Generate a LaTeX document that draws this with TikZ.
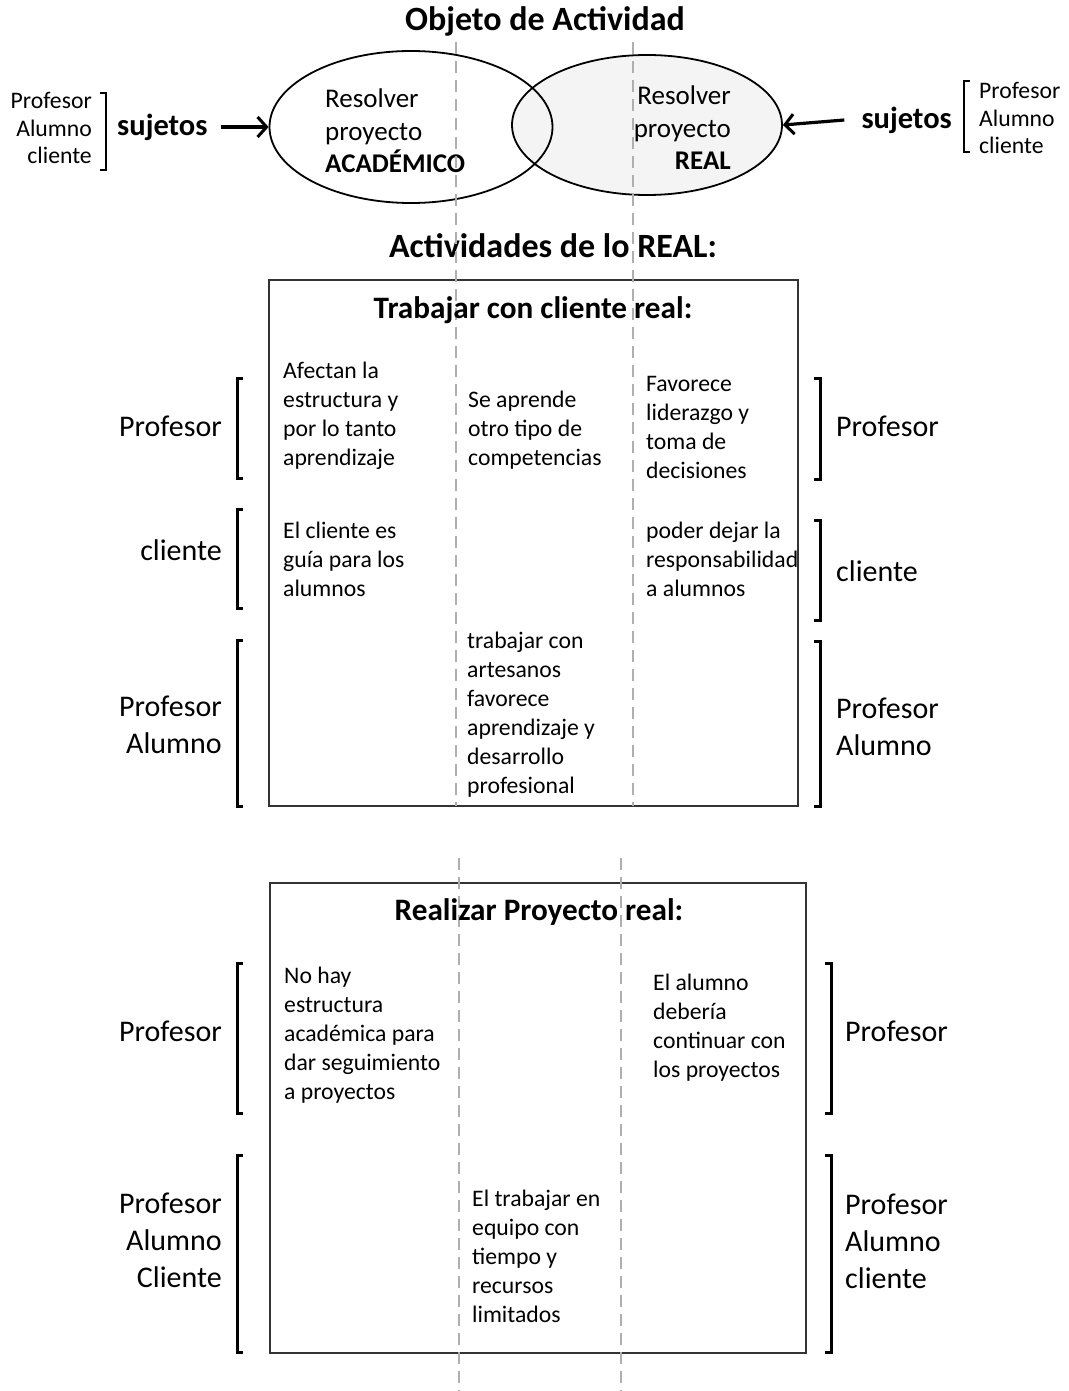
\documentclass[tikz,border=0pt]{standalone}
\usepackage{fontspec}
\setmainfont{Carlito}
\usetikzlibrary{arrows.meta,shapes.geometric}

\definecolor{boxline}{HTML}{333333}
\definecolor{guidegray}{HTML}{AFAFAF}
\definecolor{realfill}{HTML}{F4F4F4}

\begin{document}
\begin{tikzpicture}[x=1pt,y=-1pt,
  cell/.style={inner sep=0pt, align=left, anchor=west, font=\fontsize{23.7}{29}\selectfont},
  small/.style={inner sep=0pt, font=\fontsize{23.7}{27.5}\selectfont},
  role/.style={inner sep=0pt, font=\fontsize{30}{37}\selectfont},
  heading/.style={inner sep=0pt, font=\fontsize{34}{40}\selectfont\bfseries},
  boxhead/.style={inner sep=0pt, font=\fontsize{31.2}{37}\selectfont\bfseries},
  subj/.style={inner sep=0pt, font=\fontsize{30.5}{36}\selectfont\bfseries},
  ovaltext/.style={inner sep=0pt, font=\fontsize{27}{32.5}\selectfont},
  oval/.style={ellipse, draw=black, line width=1.8pt, inner sep=0pt},
  frame/.style={draw=boxline, line width=2pt},
  guide/.style={draw=guidegray, line width=2.6pt, dash pattern=on 12pt off 7pt},
  brace/.style={draw=black, line width=3pt},
  arr/.style={draw=black, line width=3.2pt, -{Straight Barb[length=9pt,width=20pt,line width=3pt]}}
]
\useasboundingbox (0,0) rectangle (1068,1391);
\fill[white] (0,0) rectangle (1068,1391);

% ---------- top: object of activity ----------
\node[heading] (objtitle) at (545,21) {Objeto de Actividad};

\node[oval, fill=realfill, minimum width=270pt, minimum height=140pt] (ellR) at (647,125) {};
\node[oval, minimum width=283pt, minimum height=152pt] (ellL) at (411,127) {};

\node[ovaltext, align=left, anchor=west] (txtL) at (325,131)
  {Resolver\\proyecto\\\textbf{ACADÉMICO}};
\node[ovaltext, align=right, anchor=east] (txtR) at (731,128)
  {Resolver\\proyecto\\\textbf{REAL}};

% subjects on the left
\node[small, align=right, anchor=east] (subjL) at (92,128) {Profesor\\Alumno\\cliente};
\draw[line width=2.5pt] (100,93) -- (106,93) -- (106,170) -- (100,170);
\node[subj, anchor=west] (sujL) at (117,127) {sujetos};
\draw[arr] ([xshift=13pt]sujL.east) -- (ellL.west);

% subjects on the right
\node[subj, anchor=east] (sujR) at (952,120) {sujetos};
\draw[line width=2.5pt] (970,81) -- (964,81) -- (964,152) -- (970,152);
\node[small, align=left, anchor=west] (subjR) at (979,118) {Profesor\\Alumno\\cliente};
\draw[arr] ([xshift=-17pt]sujR.west) -- (ellR.east);

% ---------- activities ----------
\node[heading] (acttitle) at (553,246) {Actividades de lo REAL:};

% first block frame
\draw[frame, fill=white] (269,280) rectangle (798,806);
% second block frame
\draw[frame, fill=white] (270,883) rectangle (806,1353);

% dashed column guides
\draw[guide] (456,42) -- (456,806);
\draw[guide] (633,42) -- (633,806);
\draw[guide] (459,858) -- (459,1391);
\draw[guide] (621,858) -- (621,1391);

% ----- block 1: Trabajar con cliente real -----
\node[boxhead] (t1) at (533,310) {Trabajar con cliente real:};

\node[cell] (a11) at (283,416) {Afectan la\\estructura y\\por lo tanto\\aprendizaje};
\node[cell] (a12) at (468,430) {Se aprende\\otro tipo de\\competencias};
\node[cell] (a13) at (646,427) {Favorece\\liderazgo y\\toma de\\decisiones};
\node[cell] (a21) at (283,559) {El cliente es\\guía para los\\alumnos};
\node[cell] (a23) at (646,559) {poder dejar la\\responsabilidad\\a alumnos};
\node[cell] (a32) at (467,715) {trabajar con\\artesanos\\favorece\\aprendizaje y\\desarrollo\\profesional};

% roles, left side
\node[role, anchor=east] (l11) at (222,426) {Profesor};
\node[role, anchor=east] (l12) at (222,550) {cliente};
\node[role, anchor=east, align=right] (l13) at (222,725) {Profesor\\Alumno};
\draw[brace] (243,378) -- (237,378) -- (237,478) -- (243,478);
\draw[brace] (243,509) -- (237,509) -- (237,608) -- (243,608);
\draw[brace] (243,640) -- (237,640) -- (237,806) -- (243,806);

% roles, right side
\node[role, anchor=west] (r11) at (836,426) {Profesor};
\node[role, anchor=west] (r12) at (836,571) {cliente};
\node[role, anchor=west, align=left] (r13) at (836,727) {Profesor\\Alumno};
\draw[brace] (814,378) -- (820,378) -- (820,479) -- (814,479);
\draw[brace] (814,520) -- (820,520) -- (820,620) -- (814,620);
\draw[brace] (814,641) -- (820,641) -- (820,806) -- (814,806);

% ----- block 2: Realizar Proyecto real -----
\node[boxhead] (t2) at (539,912) {Realizar Proyecto real:};

\node[cell] (b11) at (284,1035) {No hay\\estructura\\académica para\\dar seguimiento\\a proyectos};
\node[cell] (b13) at (653,1028) {El alumno\\debería\\continuar con\\los proyectos};
\node[cell] (b22) at (472,1256) {El trabajar en\\equipo con\\tiempo y\\recursos\\limitados};

% roles, left side
\node[role, anchor=east] (l21) at (222,1031) {Profesor};
\node[role, anchor=east, align=right] (l22) at (222,1240) {Profesor\\Alumno\\Cliente};
\draw[brace] (243,963) -- (237,963) -- (237,1113) -- (243,1113);
\draw[brace] (243,1155) -- (237,1155) -- (237,1352) -- (243,1352);

% roles, right side
\node[role, anchor=west] (r21) at (845,1031) {Profesor};
\node[role, anchor=west, align=left] (r22) at (845,1241) {Profesor\\Alumno\\cliente};
\draw[brace] (825,963) -- (831,963) -- (831,1113) -- (825,1113);
\draw[brace] (825,1155) -- (831,1155) -- (831,1352) -- (825,1352);
\end{tikzpicture}
\end{document}
